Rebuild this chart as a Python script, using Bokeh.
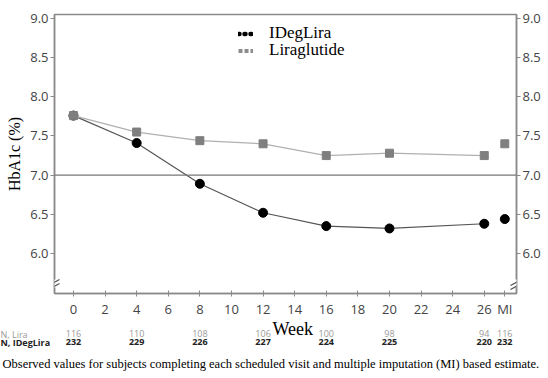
from bokeh.plotting import figure
from bokeh.models import (FixedTicker, LinearAxis, Span, Legend, LegendItem, Title,
                          Range1d, NumeralTickFormatter, Arrow)
from bokeh.embed import file_html
from bokeh.resources import INLINE

# ---- data ----
weeks = [0, 4, 8, 12, 16, 20, 26]
ideglira = [7.76, 7.41, 6.89, 6.52, 6.35, 6.32, 6.38]
lira = [7.76, 7.55, 7.44, 7.40, 7.25, 7.28, 7.25]
mi_week = 27.3
ideglira_mi = 6.44
lira_mi = 7.40
n_weeks = weeks + [mi_week]
n_lira = ["116", "110", "108", "106", "100", "98", "94", "116"]
n_ideglira = ["232", "229", "226", "227", "224", "225", "220", "232"]
x_ticks = [0, 2, 4, 6, 8, 10, 12, 14, 16, 18, 20, 22, 24, 26, mi_week]
y_ticks = [6.0, 6.5, 7.0, 7.5, 8.0, 8.5, 9.0]
caption = ("Observed values for subjects completing each scheduled visit and "
           "multiple imputation (MI) based estimate.")

SANS = "Open Sans"
SERIF = "Liberation Serif"
AX = "#8a8a8a"

W, H = 548, 378
X0, X1 = -1.2, 28.04
Y0, Y1 = 5.49, 9.05
FL, FT, FW, FH = 54, 14, 462, 279
FB = FT + FH  # frame bottom in pixels

p = figure(width=W, height=H, output_backend="svg", toolbar_location=None,
           x_range=Range1d(X0, X1), y_range=Range1d(Y0, Y1),
           min_border_left=FL, min_border_right=W - FL - FW, min_border_top=FT,
           min_border_bottom=H - FB, y_axis_location=None)
p.grid.visible = False
p.outline_line_color = AX
p.outline_line_width = 1.5
p.background_fill_color = "white"
p.border_fill_color = "white"

# x axis
xa = p.xaxis[0]
xa.ticker = FixedTicker(ticks=x_ticks)
xa.major_label_overrides = {mi_week: "MI"}
xa.minor_tick_line_color = None
xa.axis_line_color = AX
xa.axis_line_width = 1.5
xa.major_tick_line_color = AX
xa.major_tick_in = 3
xa.major_tick_out = 3
xa.major_label_standoff = 3
xa.major_label_text_font = SANS
xa.major_label_text_font_size = "13px"
xa.major_label_text_color = "#444444"

for side in ("left", "right"):
    ya = LinearAxis(ticker=FixedTicker(ticks=y_ticks), formatter=NumeralTickFormatter(format="0.0"))
    ya.minor_tick_line_color = None
    ya.axis_line_color = AX
    ya.axis_line_width = 1.5
    ya.major_tick_line_color = AX
    ya.major_tick_in = 0
    ya.major_tick_out = 4
    ya.major_label_standoff = 2
    ya.major_label_text_font = SANS
    ya.major_label_text_font_size = "13px"
    ya.major_label_text_color = "#444444"
    if side == "left":
        ya.axis_label = "HbA1c (%)"
        ya.axis_label_text_font = SERIF
        ya.axis_label_text_font_size = "16px"
        ya.axis_label_text_font_style = "normal"
        ya.axis_label_text_color = "black"
        ya.axis_label_standoff = 4
    p.add_layout(ya, side)


def below_title(text, left_px, valign, standoff, font, size, color="black", style="normal"):
    t = Title(text=text, align="left", offset=left_px - FL, vertical_align=valign,
              standoff=standoff, text_font=font, text_font_size=size,
              text_font_style=style, text_color=color)
    p.add_layout(t, "below")


def n_axis(labels, color, style, standoff):
    na = LinearAxis(ticker=FixedTicker(ticks=n_weeks),
                    major_label_overrides={w: s for w, s in zip(n_weeks, labels)})
    na.axis_line_color = None
    na.major_tick_line_color = None
    na.minor_tick_line_color = None
    na.major_tick_in = 0
    na.major_tick_out = 0
    na.major_label_standoff = standoff
    na.major_label_text_font = SANS
    na.major_label_text_font_size = "9px"
    na.major_label_text_font_style = style
    na.major_label_text_color = color
    p.add_layout(na, "below")


# stacked below the week axis: title, N rows (labels + counts) and caption
below_title("Week", 272, "bottom", -8, SERIF, "18px")
below_title("N, Lira", 0, "top", -14, SANS, "9px", color="#999999")
n_axis(n_lira, "#999999", "normal", -6)
below_title("N, IDegLira", 0, "bottom", -11, SANS, "9px", color="#222222", style="bold")
n_axis(n_ideglira, "#222222", "bold", -5)
below_title(caption, 2, "bottom", 14, SERIF, "12.5px")

# reference line at 7.0
p.add_layout(Span(location=7.0, dimension="width", line_color="#777777", line_width=1.3))

# series
p.line(weeks, ideglira, line_color="#555555", line_width=1.2)
p.scatter(weeks, ideglira, marker="circle", size=9, fill_color="black", line_color="black")
p.scatter([mi_week], [ideglira_mi], marker="circle", size=9, fill_color="black", line_color="black")
p.line(weeks, lira, line_color="#b0b0b0", line_width=1.2)
p.scatter(weeks, lira, marker="square", size=8, fill_color="#7f7f7f", line_color="#7f7f7f")
p.scatter([mi_week], [lira_mi], marker="square", size=8, fill_color="#7f7f7f", line_color="#7f7f7f")

nan = float("nan")
ROW = 19


def add_legend(renderer, label, left_px, center_py):
    lg = Legend(items=[LegendItem(label=label, renderers=[renderer])],
                location=(left_px - FL, FB - center_py - ROW // 2),
                background_fill_alpha=0, border_line_color=None,
                label_text_font=SERIF, label_text_font_size="17px",
                label_text_font_style="normal", label_text_color="black",
                label_text_baseline="middle",
                glyph_width=15, glyph_height=ROW, label_height=ROW,
                spacing=0, padding=0, margin=0, label_standoff=16)
    p.add_layout(lg, "center")


# legend entries (dotted lines imitate the three-marker swatches)
lg1 = p.line([nan], [nan], line_color="black", line_width=4.5, line_dash="1 5", line_cap="round")
lg2 = p.line([nan], [nan], line_color="#8c8c8c", line_width=4, line_dash="4 2", line_cap="butt")
add_legend(lg1, "IDegLira", 238, 34)
add_legend(lg2, "Liraglutide", 238, 51)

# axis breaks
for xs in (0, FW):
    p.add_layout(Arrow(end=None, start=None, x_start=xs, y_start=6, x_end=xs, y_end=14,
                       start_units="screen", end_units="screen", line_color="white", line_width=4))
    for dy in (0, 4):
        p.add_layout(Arrow(end=None, start=None, x_start=xs - 6, y_start=4 + dy, x_end=xs + 5,
                           y_end=10 + dy, start_units="screen", end_units="screen",
                           line_color="#555555", line_width=1.2))

open("out.html", "w").write(file_html(p, INLINE))
